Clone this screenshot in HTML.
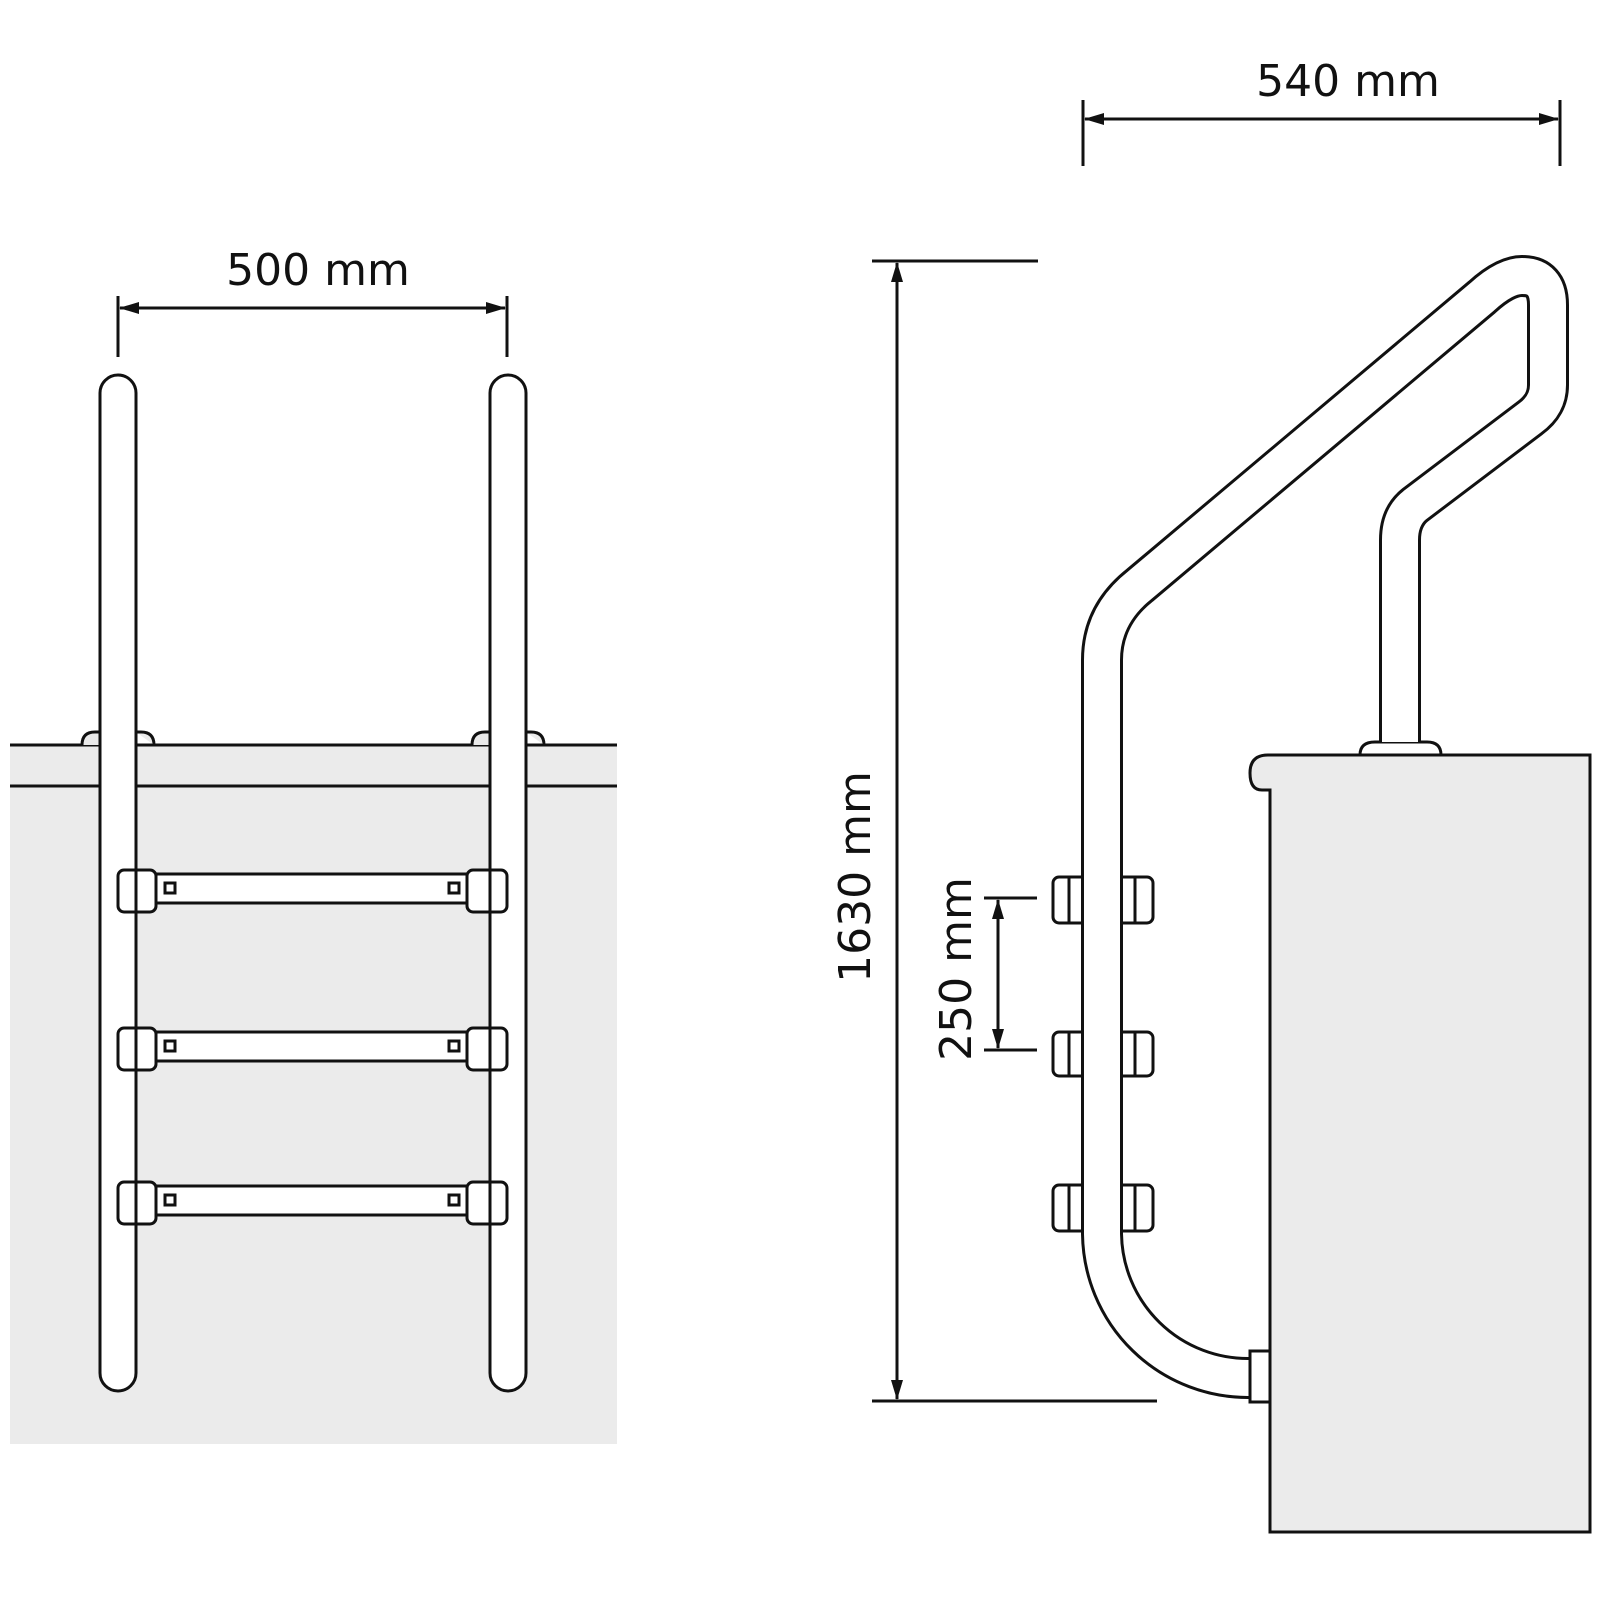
<!DOCTYPE html>
<html><head><meta charset="utf-8"><style>
html,body{margin:0;padding:0;background:#fff;}
svg{display:block;}
text{font-family:"DejaVu Sans","Liberation Sans",sans-serif;font-size:44px;fill:#111;}
</style></head><body>
<svg width="1600" height="1600" viewBox="0 0 1600 1600" xmlns="http://www.w3.org/2000/svg">
<defs>
<marker id="ar" viewBox="0 0 20 12" refX="19" refY="6" markerWidth="20" markerHeight="12" markerUnits="userSpaceOnUse" orient="auto-start-reverse">
<path d="M0,0 L20,6 L0,12 z" fill="#111"/>
</marker>
</defs>
<g stroke="#111" stroke-width="3" fill="none">
<!-- LEFT VIEW -->
<rect x="10" y="745" width="607" height="699" fill="#ebebeb" stroke="none"/>
<line x1="10" y1="745" x2="617" y2="745"/>
<line x1="10" y1="786" x2="617" y2="786"/>
<path d="M82,745 Q82,732 95,732 L100,732 L100,745" fill="#ebebeb"/>
<path d="M136,732 L141,732 Q154,732 154,745" fill="#ebebeb"/>
<path d="M472,745 Q472,732 485,732 L490,732 L490,745" fill="#ebebeb"/>
<path d="M526,732 L531,732 Q544,732 544,745" fill="#ebebeb"/>
<rect x="100" y="375" width="36" height="1016" rx="18" fill="#fff"/>
<rect x="490" y="375" width="36" height="1016" rx="18" fill="#fff"/>
<g fill="#fff">
<rect x="156" y="874" width="311" height="29"/>
<rect x="156" y="1032" width="311" height="29"/>
<rect x="156" y="1186" width="311" height="29"/>
<rect x="118" y="870" width="38" height="42" rx="6"/>
<rect x="467" y="870" width="40" height="42" rx="6"/>
<rect x="118" y="1028" width="38" height="42" rx="6"/>
<rect x="467" y="1028" width="40" height="42" rx="6"/>
<rect x="118" y="1182" width="38" height="42" rx="6"/>
<rect x="467" y="1182" width="40" height="42" rx="6"/>
<rect x="165" y="883" width="10" height="10"/>
<rect x="449" y="883" width="10" height="10"/>
<rect x="165" y="1041" width="10" height="10"/>
<rect x="449" y="1041" width="10" height="10"/>
<rect x="165" y="1195" width="10" height="10"/>
<rect x="449" y="1195" width="10" height="10"/>
</g>
<line x1="136" y1="870" x2="136" y2="912"/><line x1="490" y1="870" x2="490" y2="912"/>
<line x1="136" y1="1028" x2="136" y2="1070"/><line x1="490" y1="1028" x2="490" y2="1070"/>
<line x1="136" y1="1182" x2="136" y2="1224"/><line x1="490" y1="1182" x2="490" y2="1224"/>
<line x1="118" y1="296" x2="118" y2="357"/>
<line x1="507" y1="296" x2="507" y2="357"/>
<line x1="120" y1="308" x2="505" y2="308" marker-start="url(#ar)" marker-end="url(#ar)"/>

<!-- RIGHT VIEW -->
<path d="M1590,755 L1590,1532 L1270,1532 L1270,790 L1262,790 Q1250,790 1250,773 Q1250,755 1268,755 Z" fill="#ebebeb"/>
<path d="M1360,755 Q1360,742 1375,742 L1427,742 Q1441,742 1441,755" fill="#fff"/>
<g fill="#fff">
<rect x="1053" y="877" width="40" height="46" rx="6"/>
<rect x="1110" y="877" width="43" height="46" rx="6"/>
<rect x="1053" y="1032" width="40" height="44" rx="6"/>
<rect x="1110" y="1032" width="43" height="44" rx="6"/>
<rect x="1053" y="1185" width="40" height="46" rx="6"/>
<rect x="1110" y="1185" width="43" height="46" rx="6"/>
</g>
<line x1="1069" y1="877" x2="1069" y2="923"/><line x1="1135" y1="877" x2="1135" y2="923"/>
<line x1="1069" y1="1032" x2="1069" y2="1076"/><line x1="1135" y1="1032" x2="1135" y2="1076"/>
<line x1="1069" y1="1185" x2="1069" y2="1231"/><line x1="1135" y1="1185" x2="1135" y2="1231"/>
<path d="M1250,1378 A146,146 0 0 1 1102,1234 L1102,660 Q1102,615 1140,585 L1482,297 Q1505,276 1522,276 Q1548,276 1548,305 L1548,385 Q1548,405 1530,418 L1415,505 Q1400,517 1400,540 L1400,742" stroke="#111" stroke-width="42" stroke-linejoin="round"/>
<path d="M1250,1378 A146,146 0 0 1 1102,1234 L1102,660 Q1102,615 1140,585 L1482,297 Q1505,276 1522,276 Q1548,276 1548,305 L1548,385 Q1548,405 1530,418 L1415,505 Q1400,517 1400,540 L1400,742" stroke="#fff" stroke-width="36" stroke-linejoin="round"/>
<line x1="1360" y1="755" x2="1441" y2="755"/>
<rect x="1250" y="1351" width="20" height="51" fill="#fff"/>
<line x1="1270" y1="1340" x2="1270" y2="1410"/>
<line x1="1083" y1="100" x2="1083" y2="166"/>
<line x1="1560" y1="100" x2="1560" y2="166"/>
<line x1="1085" y1="119" x2="1558" y2="119" marker-start="url(#ar)" marker-end="url(#ar)"/>
<line x1="872" y1="261" x2="1038" y2="261"/>
<line x1="872" y1="1401" x2="1157" y2="1401"/>
<line x1="897" y1="263" x2="897" y2="1399" marker-start="url(#ar)" marker-end="url(#ar)"/>
<line x1="984" y1="898" x2="1037" y2="898"/>
<line x1="984" y1="1050" x2="1037" y2="1050"/>
<line x1="998" y1="900" x2="998" y2="1048" marker-start="url(#ar)" marker-end="url(#ar)"/>
</g>
<text x="318" y="285" text-anchor="middle">500 mm</text>
<text x="1348" y="96" text-anchor="middle">540 mm</text>
<text transform="translate(870,877) rotate(-90)" text-anchor="middle">1630 mm</text>
<text transform="translate(971,969) rotate(-90)" text-anchor="middle">250 mm</text>
</svg>
</body></html>
